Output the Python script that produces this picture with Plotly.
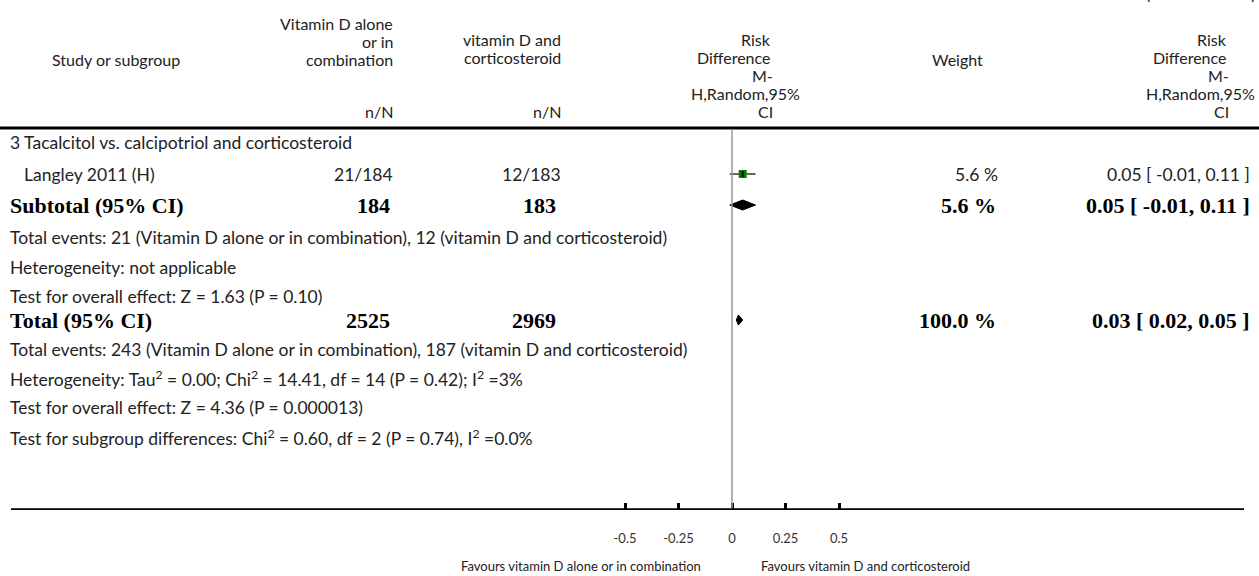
import plotly.graph_objects as go

# ---------------- data ----------------
header_study = "Study or subgroup"
header_treat = ["Vitamin D alone", "or in", "combination"]
header_ctrl = ["vitamin D and", "corticosteroid"]
header_rd = ["Risk", "Difference", "M-", "H,Random,95%", "CI"]
header_weight = "Weight"
header_nN = "n/N"

subgroup_title = "3 Tacalcitol vs. calcipotriol and corticosteroid"
study_names = ["Langley 2011 (H)"]
study_treat_nN = ["21/184"]
study_ctrl_nN = ["12/183"]
study_rd = [0.05]
study_lo = [-0.01]
study_hi = [0.11]
study_weight = ["5.6 %"]
study_ci_text = ["0.05 [ -0.01, 0.11 ]"]

subtotal_label = "Subtotal (95% CI)"
subtotal_n = ["184", "183"]
subtotal_rd, subtotal_lo, subtotal_hi = 0.05, -0.01, 0.11
subtotal_weight = "5.6 %"
subtotal_ci_text = "0.05 [ -0.01, 0.11 ]"
subtotal_notes = [
    "Total events: 21 (Vitamin D alone or in combination), 12 (vitamin D and corticosteroid)",
    "Heterogeneity: not applicable",
    "Test for overall effect: Z = 1.63 (P = 0.10)",
]

total_label = "Total (95% CI)"
total_n = ["2525", "2969"]
total_rd, total_lo, total_hi = 0.03, 0.02, 0.05
total_weight = "100.0 %"
total_ci_text = "0.03 [ 0.02, 0.05 ]"
total_notes = [
    "Total events: 243 (Vitamin D alone or in combination), 187 (vitamin D and corticosteroid)",
    "Heterogeneity: Tau<sup>2</sup> = 0.00; Chi<sup>2</sup> = 14.41, df = 14 (P = 0.42); I<sup>2</sup> =3%",
    "Test for overall effect: Z = 4.36 (P = 0.000013)",
    "Test for subgroup differences: Chi<sup>2</sup> = 0.60, df = 2 (P = 0.74), I<sup>2</sup> =0.0%",
]

tick_vals = [-0.5, -0.25, 0, 0.25, 0.5]
tick_text = ["-0.5", "-0.25", "0", "0.25", "0.5"]
favours_left = "Favours vitamin D alone or in combination"
favours_right = "Favours vitamin D and corticosteroid"
continued = "(Continued . . . )"

# ---------------- layout constants ----------------
W, H = 1259, 576
PLOT_BOTTOM = 510
X0_PX = 732          # pixel of RD = 0
PX_PER_UNIT = 214    # pixels per 1.0 risk difference
SANS = "Lato, 'Open Sans', sans-serif"
SERIF = "'Liberation Serif', 'DejaVu Serif', serif"
TXT = "#222222"
HFS = 16
FS = 17.5
BFS = 22

COL_STUDY = 8
COL_STUDY_IND = 22
COL_TREAT = 395
COL_CTRL = 563
COL_WEIGHT = 1000
COL_CI = 1252

Y_SUBGROUP = 143
Y_STUDIES = [174]
Y_SUBTOTAL = 205
Y_SUB_NOTES = [237, 267, 296]
Y_TOTAL = 320
Y_TOT_NOTES = [349, 378, 408, 437]

fig = go.Figure()

annotations = []


def txt(px, py, s, anchor="left", size=FS, family=SANS, color=TXT, bold=False):
    annotations.append(dict(
        x=px / W, xref="paper", y=(H - py) / H, yref="paper", text=s, showarrow=False,
        xanchor=anchor, yanchor="middle",
        font=dict(family=family, size=size, color=color,
                  weight="bold" if bold else "normal"),
    ))


# headers
txt(W - 2, -7, continued, "right", size=HFS)
for i, s in enumerate(header_treat):
    txt(COL_TREAT, 23 + 18 * i, s, "right", size=HFS)
txt(116, 59, header_study, "center", size=HFS)
for i, s in enumerate(header_ctrl):
    txt(COL_CTRL, 40 + 18 * i, s, "right", size=HFS)
rd_right = [773, 773, 775, 802, 775]
rd_right2 = [1229, 1229, 1231, 1257, 1231]
for i, s in enumerate(header_rd):
    txt(rd_right[i], 40 + 18 * i, s, "right", size=HFS)
    txt(rd_right2[i], 40 + 18 * i, s, "right", size=HFS)
txt(957, 59, header_weight, "center", size=HFS)
txt(COL_TREAT, 112, header_nN, "right", size=HFS)
txt(COL_CTRL, 112, header_nN, "right", size=HFS)

# subgroup
txt(COL_STUDY, Y_SUBGROUP, subgroup_title)
for i, name in enumerate(study_names):
    y = Y_STUDIES[i]
    txt(COL_STUDY_IND, y, name)
    txt(COL_TREAT, y, study_treat_nN[i], "right")
    txt(COL_CTRL, y, study_ctrl_nN[i], "right")
    txt(COL_WEIGHT, y, study_weight[i], "right")
    txt(COL_CI, y, study_ci_text[i], "right")

txt(COL_STUDY, Y_SUBTOTAL, subtotal_label, size=BFS, family=SERIF, color="#000", bold=True)
txt(COL_TREAT - 3, Y_SUBTOTAL, subtotal_n[0], "right", BFS, SERIF, "#000", True)
txt(COL_CTRL - 5, Y_SUBTOTAL, subtotal_n[1], "right", BFS, SERIF, "#000", True)
txt(COL_WEIGHT - 2, Y_SUBTOTAL, subtotal_weight, "right", BFS, SERIF, "#000", True)
txt(COL_CI, Y_SUBTOTAL, subtotal_ci_text, "right", BFS, SERIF, "#000", True)
for s, y in zip(subtotal_notes, Y_SUB_NOTES):
    txt(COL_STUDY, y, s)

txt(COL_STUDY, Y_TOTAL, total_label, size=BFS, family=SERIF, color="#000", bold=True)
txt(COL_TREAT - 3, Y_TOTAL, total_n[0], "right", BFS, SERIF, "#000", True)
txt(COL_CTRL - 5, Y_TOTAL, total_n[1], "right", BFS, SERIF, "#000", True)
txt(COL_WEIGHT - 2, Y_TOTAL, total_weight, "right", BFS, SERIF, "#000", True)
txt(COL_CI, Y_TOTAL, total_ci_text, "right", BFS, SERIF, "#000", True)
for s, y in zip(total_notes, Y_TOT_NOTES):
    txt(COL_STUDY, y, s)

# favours labels
txt(703, 566, favours_left, "right", size=13)
txt(759, 566, favours_right, "left", size=13)

# ---------------- marks ----------------
for i in range(len(study_names)):
    y = Y_STUDIES[i]
    fig.add_trace(go.Scatter(x=[study_lo[i], study_hi[i]], y=[y, y], mode="lines",
                             line=dict(color="#666666", width=2), hoverinfo="skip"))
    fig.add_trace(go.Scatter(x=[study_rd[i]], y=[y], mode="markers",
                             marker=dict(symbol="square", size=8, color="#008000",
                                         line=dict(width=0)), hoverinfo="skip"))
    fig.add_trace(go.Scatter(x=[study_rd[i]], y=[y], mode="markers",
                             marker=dict(symbol="line-ns", size=4, color="black",
                                         line=dict(width=2, color="black")), hoverinfo="skip"))


def diamond(lo, est, hi, y, half=5):
    fig.add_trace(go.Scatter(x=[lo, est, hi, est, lo], y=[y, y - half, y, y + half, y],
                             mode="lines", fill="toself", fillcolor="black",
                             line=dict(color="black", width=1), hoverinfo="skip"))


diamond(subtotal_lo, subtotal_rd, subtotal_hi, Y_SUBTOTAL)
diamond(total_lo, total_rd, total_hi, Y_TOTAL)

shapes = [
    dict(type="line", xref="paper", yref="y", x0=0, x1=1, y0=128, y1=128,
         line=dict(color="black", width=3)),
    dict(type="line", xref="x", yref="y", x0=0, x1=0, y0=129, y1=PLOT_BOTTOM,
         line=dict(color="#999999", width=1.5)),
    dict(type="line", xref="paper", yref="y", x0=11 / W, x1=1244 / W,
         y0=PLOT_BOTTOM, y1=PLOT_BOTTOM, line=dict(color="black", width=3.5)),
]

fig.update_layout(
    width=W, height=H,
    margin=dict(l=0, r=0, t=0, b=0),
    paper_bgcolor="white", plot_bgcolor="white",
    showlegend=False,
    annotations=annotations,
    shapes=shapes,
    xaxis=dict(range=[-X0_PX / PX_PER_UNIT, (W - X0_PX) / PX_PER_UNIT],
               tickvals=tick_vals, ticktext=tick_text,
               ticks="inside", ticklen=7, tickwidth=3, tickcolor="black",
               showline=False, showgrid=False, zeroline=False,
               tickfont=dict(family=SANS, size=13, color="#333333"),
               ticklabelstandoff=19, fixedrange=True),
    yaxis=dict(range=[PLOT_BOTTOM, 0], domain=[(H - PLOT_BOTTOM) / H, 1],
               visible=False, fixedrange=True),
)

fig.write_html("out.html", config={"displayModeBar": False},
               post_script="document.body.style.margin='0px';document.body.style.overflow='hidden';")
